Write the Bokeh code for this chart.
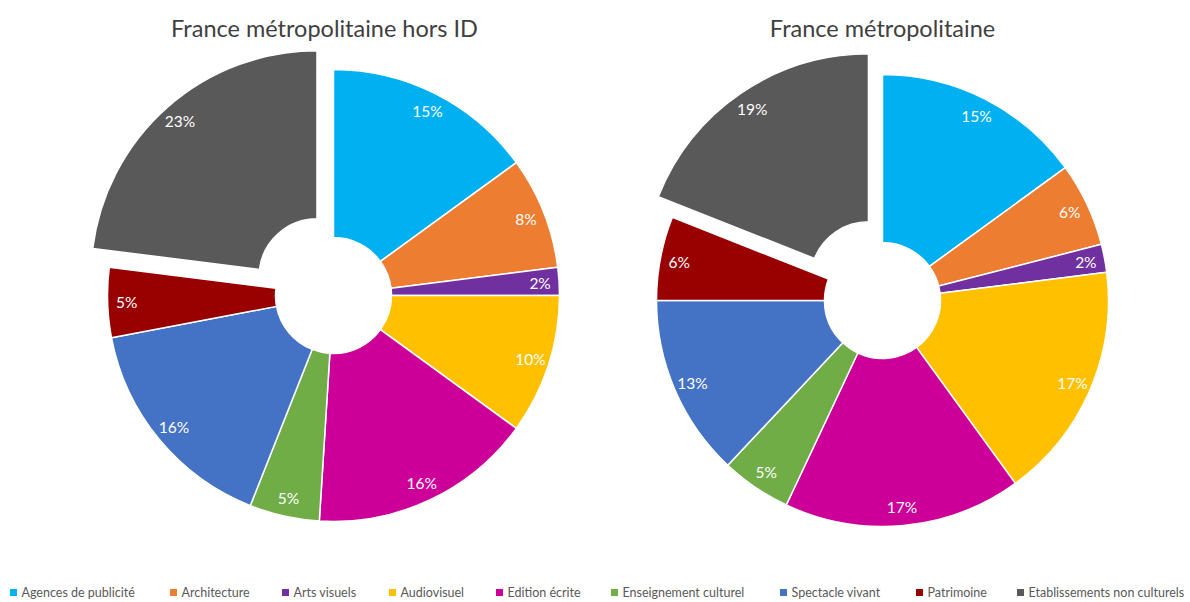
import numpy as np
from bokeh.plotting import figure
from bokeh.models import Range1d, ColumnDataSource
from bokeh.core.properties import value
from bokeh.embed import file_html
from bokeh.resources import INLINE

# ---------------- data ----------------
categories = ["Agences de publicité", "Architecture", "Arts visuels", "Audiovisuel",
              "Edition écrite", "Enseignement culturel", "Spectacle vivant",
              "Patrimoine", "Etablissements non culturels"]
colors = ["#00B0F0", "#ED7D31", "#7030A0", "#FFC000", "#CC0099",
          "#70AD47", "#4472C4", "#990000", "#595959"]
hors_id = [15, 8, 2, 10, 16, 5, 16, 5, 23]
france = [15, 6, 2, 17, 17, 5, 13, 6, 19]
titles = ["France métropolitaine hors ID", "France métropolitaine"]

# ---------------- layout ----------------
W, H = 1190, 602


def fx(px):
    return px


def fy(py):
    return H - py


centers = [(333, 295), (882, 300)]
title_pos = [(324, 27), (882, 27)]
R_OUT, R_IN, EXPLODE = 226, 58, 25
LABEL_R = 207
legend_x = [12, 172, 284, 391, 498, 613, 782, 918, 1019]
legend_y = 592

p = figure(width=W, height=H, x_range=Range1d(0, W), y_range=Range1d(0, H),
           output_backend="svg", toolbar_location=None,
           x_axis_location=None, y_axis_location=None, min_border=0,
           outline_line_color=None, background_fill_color="white",
           border_fill_color="white")
p.grid.visible = False

for (cpx, cpy), vals, title, (tx, ty) in zip(centers, [hors_id, france], titles, title_pos):
    v = np.array(vals, dtype=float)
    frac = v / v.sum()
    cum1 = np.cumsum(frac)
    cum0 = cum1 - frac
    start = np.pi / 2 - 2 * np.pi * cum1
    end = np.pi / 2 - 2 * np.pi * cum0
    mid = (start + end) / 2
    cx = np.full(len(v), float(fx(cpx)))
    cy = np.full(len(v), float(fy(cpy)))
    # explode the last slice
    cx[-1] += EXPLODE * np.cos(mid[-1])
    cy[-1] += EXPLODE * np.sin(mid[-1])
    src = ColumnDataSource(dict(x=cx, y=cy, start=start, end=end, color=colors,
                                lx=cx + LABEL_R * np.cos(mid), ly=cy + LABEL_R * np.sin(mid),
                                label=[f"{int(a)}%" for a in vals]))
    p.annular_wedge(x="x", y="y", inner_radius=R_IN, outer_radius=R_OUT,
                    start_angle="start", end_angle="end", fill_color="color",
                    line_color="white", line_width=1.5, source=src)
    p.text(x="lx", y="ly", text="label", source=src, text_color="white",
           text_font=value("Lato"), text_font_size="15.5px",
           text_align="center", text_baseline="middle")
    p.text(x=[fx(tx)], y=[fy(ty)], text=[title], text_color="#404040",
           text_font=value("Lato"), text_font_size="23.5px",
           text_align="center", text_baseline="middle")

# legend
p.scatter(x=[fx(x) + 1 for x in legend_x], y=[fy(legend_y)] * len(legend_x),
          marker="square", size=7, fill_color=colors, line_color=None)
p.text(x=[fx(x) + 9 for x in legend_x], y=[fy(legend_y)] * len(legend_x),
       text=categories, text_color="#595959", text_font=value("Lato"),
       text_font_size="12.5px", text_align="left", text_baseline="middle")

open("out.html", "w").write(file_html(p, INLINE))
